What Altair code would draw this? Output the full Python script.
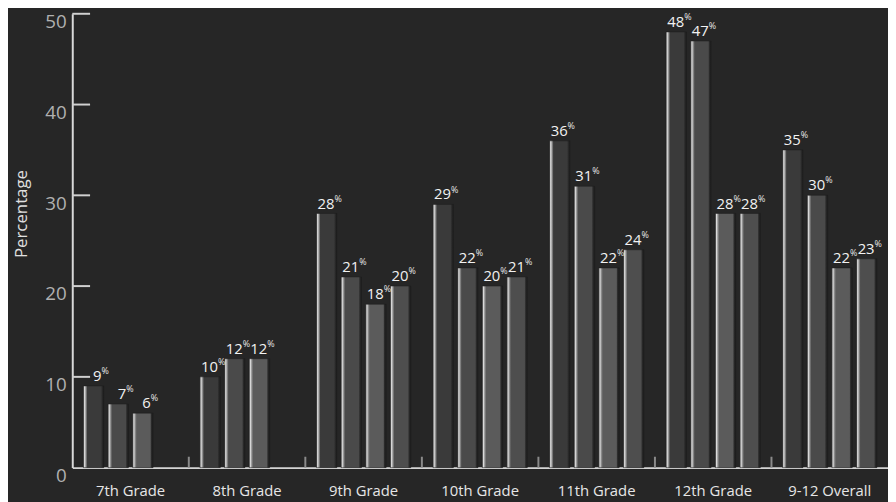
import altair as alt
import pandas as pd

grades = ["7th Grade", "8th Grade", "9th Grade", "10th Grade",
          "11th Grade", "12th Grade", "9-12 Overall"]
series = ["S1", "S2", "S3", "S4"]
s1 = [9, 10, 28, 29, 36, 48, 35]
s2 = [7, 12, 21, 22, 31, 47, 30]
s3 = [6, 12, 18, 20, 22, 28, 22]
s4 = [None, None, 20, 21, 24, 28, 23]
base_colors = ["#3a3a3a", "#4a4a4a", "#5b5b5b", "#4e4e4e"]
y_tick_values = [0, 10, 20, 30, 40, 50]
inner_ticks = [10, 20, 30, 40, 50]

rows = []
for sname, vals in zip(series, [s1, s2, s3, s4]):
    for g, v in zip(grades, vals):
        if v is not None:
            rows.append({"grade": g, "series": sname, "value": v,
                         "num": str(v), "pct": "%"})
df = pd.DataFrame(rows)
tick_df = pd.DataFrame({"v": inner_ticks})
band_df = pd.DataFrame({"grade": grades[1:]})

FONT = "Open Sans"

x_enc = alt.X("grade:N", sort=grades,
              scale=alt.Scale(domain=grades, paddingInner=0, paddingOuter=0),
              axis=alt.Axis(title=None, ticks=False, labelAngle=0,
                            labelFont=FONT, labelFontSize=15, labelColor="#e6e6e6",
                            labelPadding=16, domainColor="#d4d4d4", domainWidth=2))
xo_enc = alt.XOffset("series:N",
                     scale=alt.Scale(domain=series, paddingInner=0.17, paddingOuter=0.45))
y_enc = alt.Y("value:Q", scale=alt.Scale(domain=[0, 50], nice=False),
              axis=alt.Axis(values=y_tick_values, ticks=False, grid=False,
                            title="Percentage", titleFont=FONT, titleFontSize=17,
                            titleFontWeight="normal", titleColor="#e0e0e0",
                            titleX=-51, titleY=202, titleBaseline="middle",
                            labelFont=FONT, labelFontSize=19, labelColor="#b0b0b0",
                            labelOffset=8, labelPadding=6,
                            domainColor="#d8d8d8", domainWidth=2))

layers = []
for sname, c in zip(series, base_colors):
    grad = alt.Gradient(
        gradient="linear", x1=0, x2=1, y1=0, y2=0,
        stops=[alt.GradientStop(offset=0, color="#7a7a7a"),
               alt.GradientStop(offset=0.06, color="#dcdcdc"),
               alt.GradientStop(offset=0.13, color="#8c8c8c"),
               alt.GradientStop(offset=0.2, color=c),
               alt.GradientStop(offset=0.86, color=c),
               alt.GradientStop(offset=0.92, color="#2a2a2a"),
               alt.GradientStop(offset=1, color="#1b1b1b")])
    layers.append(
        alt.Chart(df).transform_filter(alt.datum.series == sname)
        .mark_bar(fill=grad, stroke="#1c1c1c", strokeWidth=0.5)
        .encode(x=x_enc, xOffset=xo_enc, y=y_enc)
    )

num_text = alt.Chart(df).mark_text(
    align="right", baseline="alphabetic", dx=8, dy=-5,
    font=FONT, fontSize=15, color="#f2f2f2"
).encode(x=x_enc, xOffset=xo_enc, y=y_enc, text="num:N")

pct_text = alt.Chart(df).mark_text(
    align="left", baseline="alphabetic", dx=8, dy=-12,
    font=FONT, fontSize=9, color="#e8e8e8"
).encode(x=x_enc, xOffset=xo_enc, y=y_enc, text="pct:N")

y_ticks = alt.Chart(tick_df).mark_rule(color="#d0d0d0", strokeWidth=2).encode(
    y=alt.Y("v:Q"), x=alt.value(0), x2=alt.value(18))

band_ticks = alt.Chart(band_df).mark_rule(color="#8a8a8a", strokeWidth=2).encode(
    x=alt.X("grade:N", bandPosition=0), y=alt.datum(0), y2=alt.datum(1.2))

chart = alt.layer(*layers, band_ticks, y_ticks, num_text, pct_text).properties(
    width=825, height=459,
    autosize=alt.AutoSizeParams(type="none"),
    padding={"left": 65, "top": 3, "right": 0, "bottom": 40},
    background="#262626",
).configure_view(stroke=None)

chart.save("out.html", embed_options={"renderer": "svg", "actions": False})
